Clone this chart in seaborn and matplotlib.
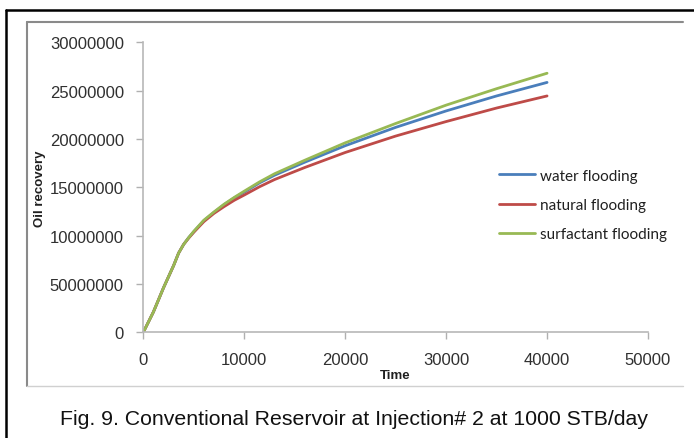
import numpy as np
import pandas as pd
import seaborn as sns
import matplotlib.pyplot as plt
from matplotlib.lines import Line2D

# values
time = [0, 1000, 2000, 3000, 3500, 4000, 4500, 5000, 6000, 7000, 8000, 9000,
        10000, 11500, 13000, 16000, 20000, 25000, 30000, 35000, 40000]
water = [0, 2.1e6, 4.6e6, 6.9e6, 8.2e6, 9.1e6, 9.8e6, 10.4e6, 11.55e6, 12.4e6,
         13.2e6, 13.9e6, 14.5e6, 15.45e6, 16.25e6, 17.6e6, 19.3e6, 21.2e6,
         22.9e6, 24.45e6, 25.85e6]
natural = [0, 2.1e6, 4.6e6, 6.9e6, 8.2e6, 9.1e6, 9.75e6, 10.35e6, 11.45e6,
           12.3e6, 13.0e6, 13.65e6, 14.2e6, 15.05e6, 15.8e6, 17.05e6, 18.6e6,
           20.3e6, 21.8e6, 23.2e6, 24.45e6]
surfactant = [0, 2.1e6, 4.6e6, 6.9e6, 8.2e6, 9.1e6, 9.8e6, 10.45e6, 11.6e6,
              12.45e6, 13.25e6, 13.95e6, 14.6e6, 15.55e6, 16.4e6, 17.8e6,
              19.6e6, 21.6e6, 23.5e6, 25.2e6, 26.8e6]

series = ["water flooding", "natural flooding", "surfactant flooding"]
colors = ["#4A7EBB", "#BE4B48", "#98B954"]

ytick_vals = [0, 5e6, 10e6, 15e6, 20e6, 25e6, 30e6]
ytick_labels = ["0", "50000000", "10000000", "15000000", "20000000",
                "25000000", "30000000"]
xtick_vals = [0, 10000, 20000, 30000, 40000, 50000]

df = pd.DataFrame({
    "Time": time * 3,
    "Oil recovery": water + natural + surfactant,
    "case": [s for s in series for _ in time],
})

sns.set_style("white")
plt.rcParams["font.family"] = ["Liberation Sans", "DejaVu Sans"]

fig = plt.figure(figsize=(6.94, 4.39), dpi=100)
W, H = 694, 439

# outer black frame (top + left) and inner grey chart frame
fig.add_artist(Line2D([6 / W, 6 / W], [0, 1 - 11 / H], color="black", lw=1.8))
fig.add_artist(Line2D([6 / W, 1], [1 - 11 / H, 1 - 11 / H], color="black", lw=1.8))
fig.add_artist(Line2D([27 / W, 27 / W], [1 - 387 / H, 1 - 23 / H], color="#8a8a8a", lw=1.5))
fig.add_artist(Line2D([27 / W, 683 / W], [1 - 23 / H, 1 - 23 / H], color="#8a8a8a", lw=1.5))
fig.add_artist(Line2D([27 / W, 683 / W], [1 - 387 / H, 1 - 387 / H], color="#d0d0d0", lw=1.0))

ax = fig.add_axes([143.3 / W, 1 - 333.3 / H, (648 - 143.3) / W, (333.3 - 43.3) / H])
sns.lineplot(data=df, x="Time", y="Oil recovery", hue="case", palette=colors,
             linewidth=2.0, ax=ax, legend=False)

ax.set_xlim(0, 50000)
ax.set_ylim(0, 30e6)
ax.set_xticks(xtick_vals)
ax.set_xticklabels([str(v) for v in xtick_vals])
ax.set_yticks(ytick_vals)
ax.set_yticklabels(ytick_labels)
ax.tick_params(axis="both", direction="out", length=5, width=1, color="#b0b0b0",
               labelsize=12, labelcolor="#303030", pad=9, left=True, bottom=True)
for side in ["top", "right"]:
    ax.spines[side].set_visible(False)
for side in ["left", "bottom"]:
    ax.spines[side].set_color("#b8b8b8")
    ax.spines[side].set_linewidth(1.2)

ax.set_xlabel("Time", fontsize=9.5, fontweight="bold", color="#202020")
ax.set_ylabel("Oil recovery", fontsize=9.5, fontweight="bold", color="#202020")
ax.xaxis.set_label_coords(0.5, (333.3 - 376) / 290)
ax.yaxis.set_label_coords((40 - 143.3) / 504.7, 0.5)
ax.xaxis.label.set_va("center")
ax.yaxis.label.set_va("center")

handles = [Line2D([0], [0], color=c, lw=2.0) for c in colors]
leg = ax.legend(handles, series, loc="center left",
                bbox_to_anchor=((485 - 143.3) / 504.7, (333.3 - 206) / 290),
                frameon=False, handlelength=2.4, handletextpad=0.3,
                labelspacing=1.0, prop={"family": "Lato", "size": 11})
for t in leg.get_texts():
    t.set_color("#202020")

fig.text(353.5 / W, 1 - 420 / H,
         "Fig. 9. Conventional Reservoir at Injection# 2 at 1000 STB/day",
         ha="center", va="center", fontsize=15.3, color="#111111")

fig.savefig("out.png", dpi=100)
